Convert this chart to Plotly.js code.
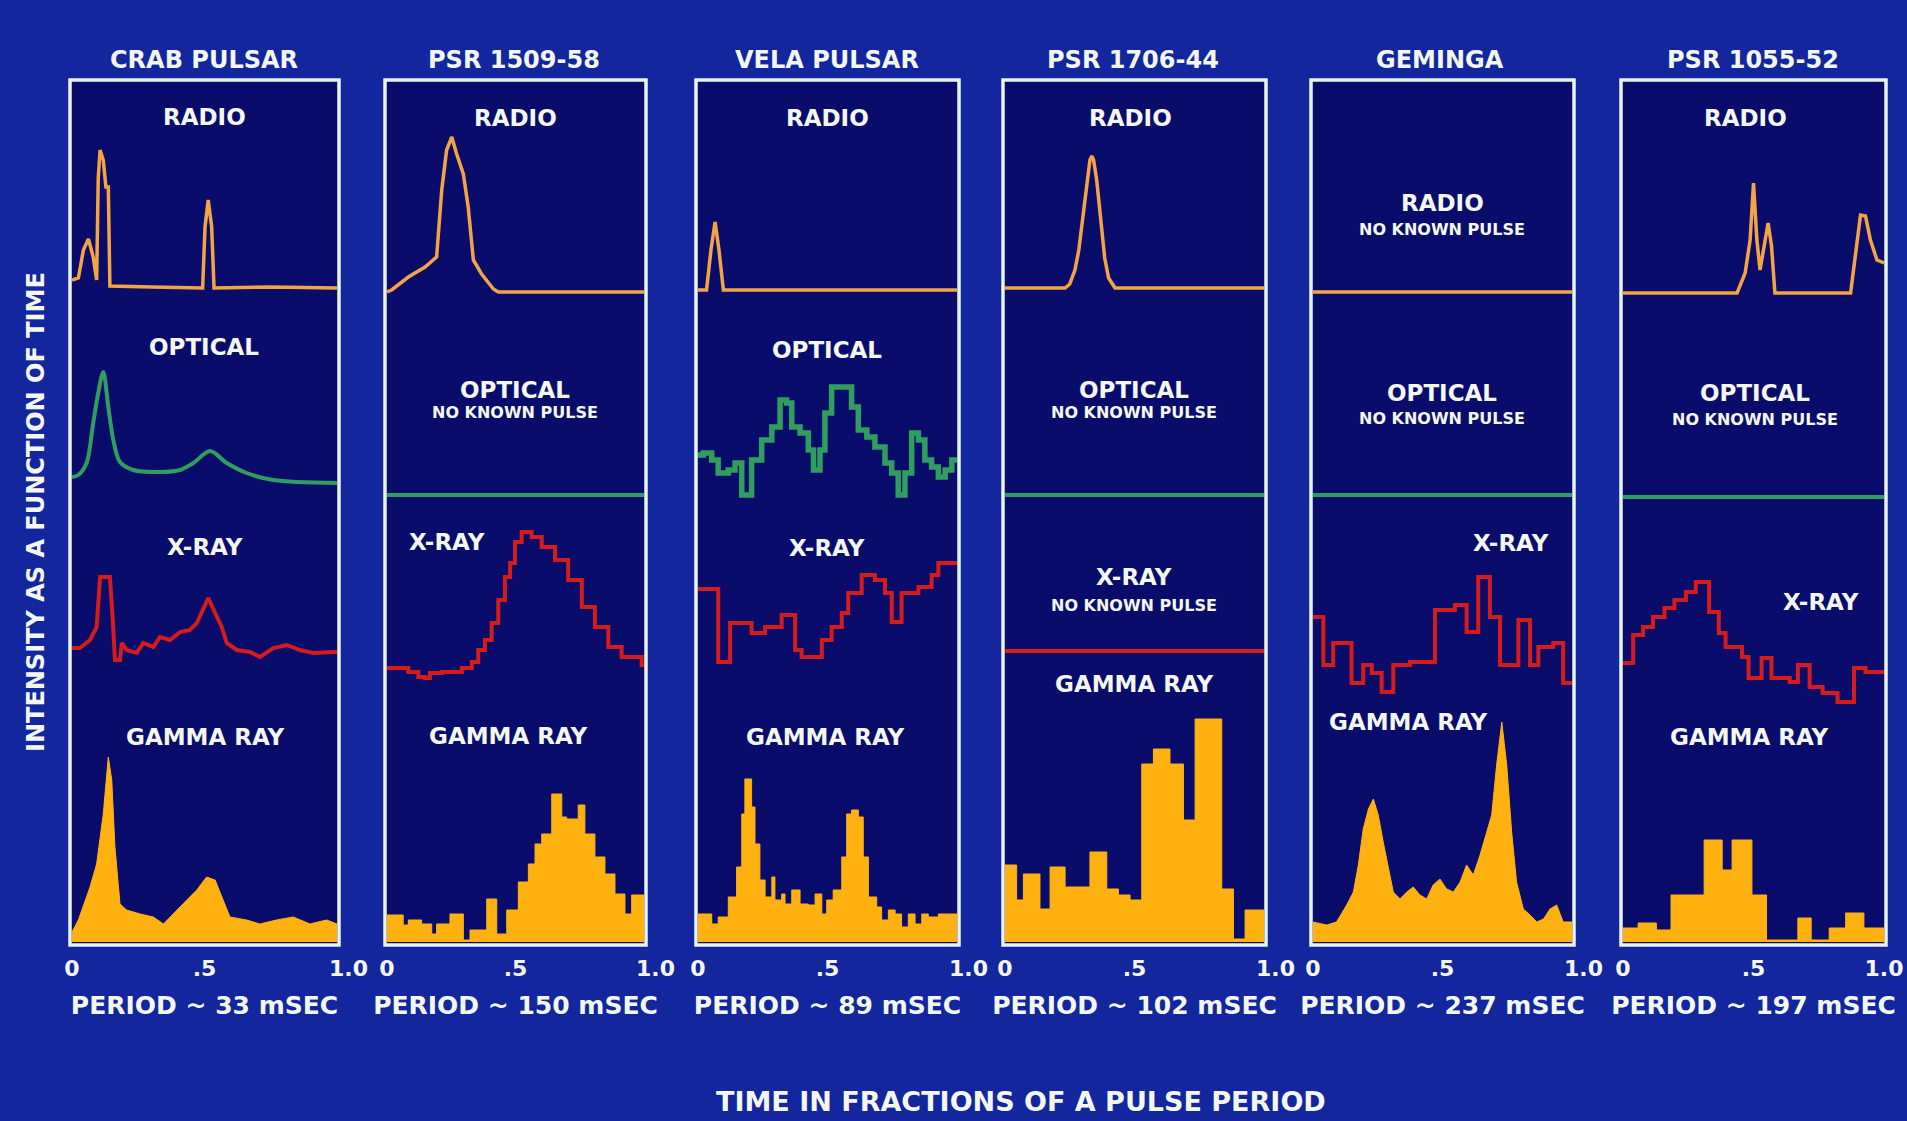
<!DOCTYPE html>
<html>
<head>
<meta charset="utf-8">
<script src="https://cdn.plot.ly/plotly-3.0.1.min.js"></script>
<style>
html,body{margin:0;padding:0;background:#13269e;}
#chart{width:1907px;height:1121px;}
</style>
</head>
<body>
<div id="chart"></div>
<script>
// ---------------- DATA ----------------
const pulsarNames = ['CRAB PULSAR', 'PSR 1509-58', 'VELA PULSAR', 'PSR 1706-44', 'GEMINGA', 'PSR 1055-52'];
const periodLabels = ['PERIOD ~ 33 mSEC', 'PERIOD ~ 150 mSEC', 'PERIOD ~ 89 mSEC', 'PERIOD ~ 102 mSEC', 'PERIOD ~ 237 mSEC', 'PERIOD ~ 197 mSEC'];
const bandNames = ['RADIO', 'OPTICAL', 'X-RAY', 'GAMMA RAY'];
const noPulseText = 'NO KNOWN PULSE';
const phaseTicks = [0, 0.5, 1];
const phaseTickText = ['0', '.5', '\u00a0\u00a0\u00a01.0'];
const lastPhaseTickText = ['0', '.5', '1.0'];

// flat line for "no known pulse"
const noPulsePhase = [0, 1];
const noPulseIntensity = [0, 0];

// Crab pulsar
const crabRadioPhase = [0, .024, .043, .062, .080, .093, .099, .106, .118, .128, .137, .143, .30, .493, .502, .514, .527, .536, .75, 1.0];
const crabRadioIntensity = [8, 10, 38, 49, 31, 8, 110, 138, 128, 101, 101, 2, 1, 0, 61, 88, 61, 0, 1, 0];
const crabOpticalPhase = [0, .024, .055, .080, .099, .118, .137, .156, .181, .231, .332, .408, .458, .521, .584, .659, .760, 1.0];
const crabOpticalIntensity = [8, 10, 22, 62, 92, 113, 78, 45, 23, 15, 13, 15, 22, 34, 22, 12, 5, 2];
const crabXrayPhase = [0, .030, .068, .093, .106, .143, .154, .162, .181, .188, .206, .244, .269, .307, .332, .370, .408, .445, .471, .495, .514, .540, .565, .584, .622, .672, .709, .760, .810, .860, .911, .986, 1.0];
const crabXrayIntensity = [12, 12, 20, 33, 83, 83, 40, 0, 0, 17, 10, 7, 17, 13, 23, 20, 28, 30, 37, 52, 62, 47, 33, 17, 10, 8, 3, 12, 15, 10, 7, 8, 8];
const crabGammaPhase = [0, .024, .068, .093, .118, .137, .150, .162, .181, .206, .257, .307, .345, .395, .433, .471, .508, .540, .571, .596, .659, .709, .772, .835, .898, .961, 1.0];
const crabGammaCounts = [10, 22, 55, 78, 128, 185, 162, 95, 38, 32, 28, 25, 18, 32, 42, 52, 65, 62, 42, 25, 22, 18, 22, 25, 18, 22, 18];

// PSR 1509-58
const psr1509RadioPhase = [0, .018, .083, .148, .193, .213, .232, .252, .271, .297, .316, .336, .368, .414, .433, 1.0];
const psr1509RadioIntensity = [0, 2, 15, 25, 35, 102, 142, 155, 138, 118, 85, 32, 18, 3, 0, 0];
const psr1509XrayPhase = [0, .018, .083, .122, .148, .167, .213, .291, .330, .355, .381, .407, .433, .459, .479, .498, .524, .563, .602, .654, .705, .758, .809, .861, .913, .991, 1.0];
const psr1509XrayIntensity = [12, 12, 8, 3, 2, 7, 8, 12, 18, 30, 40, 57, 80, 103, 117, 138, 148, 143, 133, 120, 100, 73, 53, 33, 23, 15, 15];
const psr1509GammaEdges = [0, .063, .083, .135, .174, .193, .245, .297, .323, .388, .427, .466, .511, .550, .576, .602, .641, .680, .699, .744, .770, .809, .848, .887, .926, .952, 1.0];
const psr1509GammaCounts = [27, 17, 22, 18, 8, 18, 28, 2, 12, 43, 8, 32, 60, 78, 98, 108, 148, 125, 123, 137, 108, 85, 68, 48, 28, 47];

// Vela pulsar
const velaRadioPhase = [0, .033, .050, .066, .081, .098, 1.0];
const velaRadioIntensity = [0, 0, 40, 68, 40, 0, 0];
const velaOpticalPhase = [0, .020, .053, .078, .117, .143, .169, .193, .207, .246, .285, .317, .342, .362, .394, .426, .446, .471, .490, .516, .580, .593, .619, .652, .683, .722, .748, .773, .799, .825, .851, .876, .902, .928, .954, .980, 1.0];
const velaOpticalIntensity = [45, 47, 40, 27, 30, 37, 5, 5, 40, 60, 73, 100, 97, 73, 67, 50, 30, 50, 87, 113, 113, 93, 70, 63, 53, 37, 27, 5, 27, 67, 60, 40, 33, 23, 30, 40, 40];
const velaXrayEdges = [0, .078, .124, .207, .259, .323, .375, .400, .478, .516, .555, .580, .632, .683, .722, .748, .786, .851, .902, .928, 1.0];
const velaXrayCounts = [76, 3, 42, 32, 38, 50, 15, 8, 25, 38, 52, 72, 90, 85, 72, 43, 72, 78, 90, 102];
const velaGammaEdges = [0, .053, .078, .117, .149, .169, .181, .207, .220, .239, .259, .285, .297, .323, .336, .362, .394, .426, .452, .478, .497, .522, .555, .574, .593, .619, .638, .658, .690, .709, .735, .761, .786, .812, .838, .864, .889, .928, 1.0];
const velaGammaCounts = [28, 18, 25, 45, 75, 128, 163, 135, 98, 62, 45, 65, 42, 48, 38, 52, 38, 37, 48, 28, 42, 52, 85, 128, 132, 125, 85, 45, 35, 22, 32, 28, 15, 28, 18, 28, 25, 28];

// PSR 1706-44
const psr1706RadioPhase = [0, .232, .250, .270, .285, .296, .315, .328, .335, .342, .354, .371, .385, .400, .425, 1.0];
const psr1706RadioIntensity = [0, 0, 4, 18, 38, 62, 105, 128, 132, 128, 108, 62, 30, 10, 0, 0];
const psr1706GammaEdges = [0, .045, .071, .135, .174, .232, .328, .393, .438, .483, .528, .573, .637, .689, .734, .837, .882, .927, 1.0];
const psr1706GammaCounts = [77, 42, 68, 33, 75, 55, 90, 53, 47, 42, 178, 193, 178, 122, 223, 53, 3, 32];

// Geminga
const gemingaXrayEdges = [0, .040, .078, .149, .194, .227, .265, .310, .375, .471, .548, .593, .638, .683, .722, .793, .838, .870, .928, .966, 1.0];
const gemingaXrayCounts = [83, 35, 57, 17, 35, 27, 8, 35, 38, 90, 95, 68, 123, 83, 35, 80, 35, 53, 57, 17];
const gemingaGammaPhase = [0, .053, .091, .130, .156, .175, .194, .214, .233, .252, .271, .291, .310, .336, .362, .387, .413, .439, .464, .490, .516, .542, .568, .593, .619, .645, .671, .690, .709, .729, .748, .767, .786, .812, .838, .864, .890, .915, .941, .966, 1.0];
const gemingaGammaCounts = [20, 17, 20, 37, 50, 77, 113, 133, 143, 127, 100, 73, 50, 43, 50, 55, 47, 43, 57, 63, 53, 50, 60, 77, 67, 87, 110, 127, 177, 220, 177, 110, 60, 33, 27, 20, 23, 33, 37, 20, 20];

// PSR 1055-52
const psr1055RadioPhase = [0, .437, .468, .487, .500, .513, .525, .544, .556, .569, .582, .872, .891, .910, .929, .948, .973, 1.0];
const psr1055RadioIntensity = [0, 0, 20, 53, 110, 53, 23, 53, 70, 47, 0, 0, 40, 78, 77, 53, 33, 30];
const psr1055XrayEdges = [0, .039, .077, .115, .159, .197, .241, .279, .330, .367, .393, .456, .481, .531, .569, .639, .670, .715, .765, .822, .885, .929, 1.0];
const psr1055XrayCounts = [42, 70, 78, 88, 97, 105, 113, 123, 93, 72, 58, 48, 27, 47, 27, 23, 40, 18, 12, 3, 37, 33];
const psr1055GammaEdges = [0, .058, .128, .184, .311, .380, .418, .494, .550, .670, .721, .790, .853, .923, 1.0];
const psr1055GammaCounts = [14, 19, 12, 47, 102, 72, 102, 47, 2, 24, 2, 14, 29, 14];

// ---------------- LAYOUT CONSTANTS ----------------
const W = 1907, H = 1121;
const panelLeft = [72, 387, 698, 1005, 1313, 1623];
const panelRight = [337, 644, 957, 1264, 1572, 1884];
const frameTop = 80, frameBottom = 945;
const bandBase = [[288, 485, 660, 942], [292, 495, 680, 942], [290, 500, 665, 942], [288, 495, 651, 942], [292, 495, 700, 942], [293, 497, 705, 942]];
const bandSpan = [160, 130, 160, 240];
const bandPad = [6, 6, 6, 3];
const bandColor = ['#f3a445', '#2f9e5e', '#d41c1c', '#ffb20f'];
const bandWidth = [3.5, 4, 4, 1];
const bgOuter = '#13269e', bgPanel = '#0a0c6c', frameColor = '#e8f4ea', textColor = '#f4f7f0';
const FONT = 'DejaVu Sans';

const step = h => h.concat([h[h.length - 1]]);
const panels = [
  [{k: 'line', x: crabRadioPhase, y: crabRadioIntensity}, {k: 'spline', x: crabOpticalPhase, y: crabOpticalIntensity},
   {k: 'line', x: crabXrayPhase, y: crabXrayIntensity}, {k: 'fill', x: crabGammaPhase, y: crabGammaCounts}],
  [{k: 'line', x: psr1509RadioPhase, y: psr1509RadioIntensity}, {k: 'line', x: noPulsePhase, y: noPulseIntensity},
   {k: 'step', x: psr1509XrayPhase, y: psr1509XrayIntensity}, {k: 'fillstep', x: psr1509GammaEdges, y: step(psr1509GammaCounts)}],
  [{k: 'line', x: velaRadioPhase, y: velaRadioIntensity}, {k: 'step', x: velaOpticalPhase, y: velaOpticalIntensity, w: 5.5},
   {k: 'step', x: velaXrayEdges, y: step(velaXrayCounts)}, {k: 'fillstep', x: velaGammaEdges, y: step(velaGammaCounts)}],
  [{k: 'line', x: psr1706RadioPhase, y: psr1706RadioIntensity}, {k: 'line', x: noPulsePhase, y: noPulseIntensity},
   {k: 'line', x: noPulsePhase, y: noPulseIntensity}, {k: 'fillstep', x: psr1706GammaEdges, y: step(psr1706GammaCounts)}],
  [{k: 'line', x: noPulsePhase, y: noPulseIntensity}, {k: 'line', x: noPulsePhase, y: noPulseIntensity},
   {k: 'step', x: gemingaXrayEdges, y: step(gemingaXrayCounts)}, {k: 'fill', x: gemingaGammaPhase, y: gemingaGammaCounts}],
  [{k: 'line', x: psr1055RadioPhase, y: psr1055RadioIntensity}, {k: 'line', x: noPulsePhase, y: noPulseIntensity},
   {k: 'step', x: psr1055XrayEdges, y: step(psr1055XrayCounts)}, {k: 'fillstep', x: psr1055GammaEdges, y: step(psr1055GammaCounts)}]
];

// band labels: [text, px, py, size]
const labels = [
  [['RADIO', 204, 117], ['OPTICAL', 204, 347], ['X-RAY', 205, 547], ['GAMMA RAY', 205, 737]],
  [['RADIO', 515, 118], ['OPTICAL', 515, 390], [noPulseText, 515, 412, 16], ['X-RAY', 447, 542], ['GAMMA RAY', 508, 736]],
  [['RADIO', 827, 118], ['OPTICAL', 827, 350], ['X-RAY', 827, 548], ['GAMMA RAY', 825, 737]],
  [['RADIO', 1130, 118], ['OPTICAL', 1134, 390], [noPulseText, 1134, 412, 16], ['X-RAY', 1134, 577], [noPulseText, 1134, 605, 16], ['GAMMA RAY', 1134, 684]],
  [['RADIO', 1442, 203], [noPulseText, 1442, 229, 16], ['OPTICAL', 1442, 393], [noPulseText, 1442, 418, 16], ['X-RAY', 1511, 543], ['GAMMA RAY', 1408, 722]],
  [['RADIO', 1745, 118], ['OPTICAL', 1755, 393], [noPulseText, 1755, 419, 16], ['X-RAY', 1821, 602], ['GAMMA RAY', 1749, 737]]
];
const titleX = [204, 514, 827, 1133, 1440, 1753];

// ---------------- BUILD ----------------
const px = v => v / W, py = v => 1 - v / H;
const traces = [];
const layout = {
  width: W, height: H, margin: {l: 0, r: 0, t: 0, b: 0},
  paper_bgcolor: bgOuter, plot_bgcolor: 'rgba(0,0,0,0)',
  showlegend: false, shapes: [], annotations: [],
  font: {family: FONT, color: textColor, weight: 'bold'}
};

panels.forEach((bands, p) => {
  const xid = p === 0 ? 'x' : 'x' + (p + 1);
  const xname = p === 0 ? 'xaxis' : 'xaxis' + (p + 1);
  bands.forEach((b, i) => {
    const n = p * 4 + i + 1;
    const yid = n === 1 ? 'y' : 'y' + n;
    const yname = n === 1 ? 'yaxis' : 'yaxis' + n;
    const base = bandBase[p][i];
    layout[yname] = {
      domain: [py(base + bandPad[i]), py(base - bandSpan[i])],
      range: [-bandPad[i], bandSpan[i]], anchor: xid, visible: false, fixedrange: true
    };
    const shape = b.k === 'spline' ? 'spline' : (b.k === 'step' || b.k === 'fillstep') ? 'hv' : 'linear';
    const tr = {
      type: 'scatter', mode: 'lines', x: b.x, y: b.y, xaxis: xid, yaxis: yid,
      line: {color: bandColor[i], width: b.w || bandWidth[i], shape: shape, smoothing: 0.9},
      hoverinfo: 'skip', showlegend: false
    };
    if (b.k === 'fill' || b.k === 'fillstep') { tr.fill = 'tozeroy'; tr.fillcolor = bandColor[3]; }
    traces.push(tr);
  });
  layout[xname] = {
    domain: [px(panelLeft[p]), px(panelRight[p])], range: [0, 1], anchor: 'y' + (p * 4 + 4),
    showgrid: false, zeroline: false, showline: false, ticks: '', fixedrange: true,
    tickmode: 'array', tickvals: phaseTicks, ticktext: p === 5 ? lastPhaseTickText : phaseTickText,
    ticklabelstandoff: 8, ticklabeloverflow: 'allow',
    tickfont: {family: FONT, size: 22, color: textColor, weight: 'bold'},
    title: {text: periodLabels[p], standoff: 16, font: {family: FONT, size: 25, color: textColor, weight: 'bold'}}
  };
  // panel background and frame
  layout.shapes.push({type: 'rect', xref: 'paper', yref: 'paper', layer: 'below',
    x0: px(panelLeft[p] - 2), x1: px(panelRight[p] + 2), y0: py(frameBottom), y1: py(frameTop),
    fillcolor: bgPanel, line: {width: 0}});
  layout.shapes.push({type: 'rect', xref: 'paper', yref: 'paper', layer: 'above',
    x0: px(panelLeft[p] - 2), x1: px(panelRight[p] + 2), y0: py(frameBottom), y1: py(frameTop),
    fillcolor: 'rgba(0,0,0,0)', line: {color: frameColor, width: 3.5}});
  // pulsar name
  layout.annotations.push({text: pulsarNames[p], xref: 'paper', yref: 'paper', x: px(titleX[p]), y: py(60),
    xanchor: 'center', yanchor: 'middle', showarrow: false, font: {family: FONT, size: 24, color: textColor, weight: 'bold'}});
  labels[p].forEach(l => {
    layout.annotations.push({text: l[0], xref: 'paper', yref: 'paper', x: px(l[1]), y: py(l[2]),
      xanchor: 'center', yanchor: 'middle', showarrow: false,
      font: {family: FONT, size: l[3] || 23, color: textColor, weight: 'bold'}});
  });
});

layout.annotations.push({text: 'TIME IN FRACTIONS OF A PULSE PERIOD', xref: 'paper', yref: 'paper', x: px(1021), y: py(1101),
  xanchor: 'center', yanchor: 'middle', showarrow: false, font: {family: FONT, size: 27, color: textColor, weight: 'bold'}});
layout.annotations.push({text: 'INTENSITY AS A FUNCTION OF TIME', xref: 'paper', yref: 'paper', x: px(36), y: py(512),
  xanchor: 'center', yanchor: 'middle', textangle: -90, showarrow: false, font: {family: FONT, size: 24, color: textColor, weight: 'bold'}});

Plotly.newPlot('chart', traces, layout, {displayModeBar: false, staticPlot: true});
</script>
</body>
</html>
